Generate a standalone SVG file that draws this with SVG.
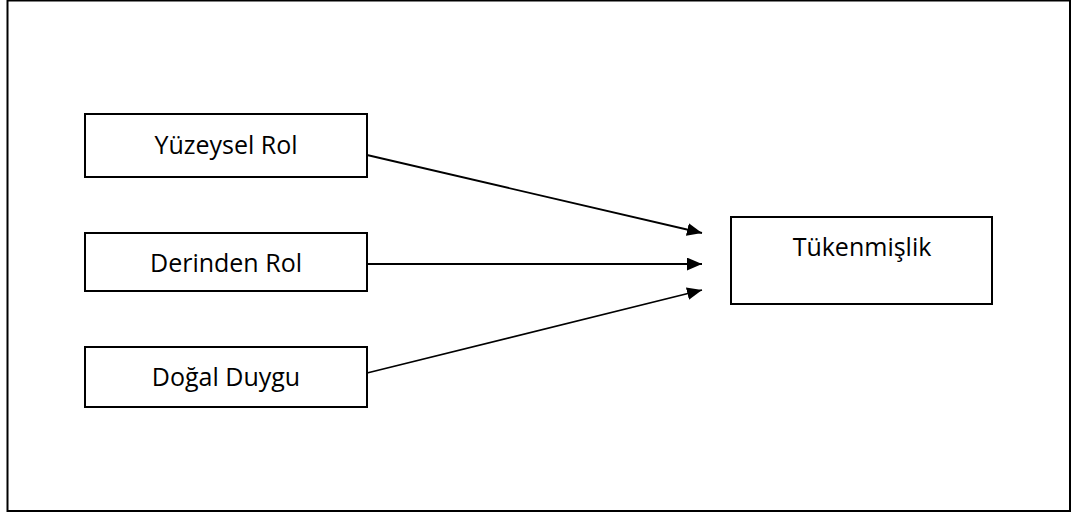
<svg xmlns="http://www.w3.org/2000/svg" width="1072" height="516" viewBox="0 0 1072 516">
<style>
.box{fill:#fff;stroke:#000;stroke-width:2}
.lbl{font-family:"Open Sans","Liberation Sans",sans-serif;font-size:25px;fill:#000;text-anchor:middle}
.con{stroke:#000;stroke-width:1.8;fill:none;marker-end:url(#ah)}
</style>
<defs>
<marker id="ah" viewBox="0 0 14 12" refX="14" refY="6" markerWidth="15" markerHeight="13" markerUnits="userSpaceOnUse" orient="auto">
<path d="M0,0 L14,6 L0,12 Z" fill="#000"/>
</marker>
</defs>
<rect x="0" y="0" width="1072" height="516" fill="#fff"/>
<rect x="7.5" y="0.5" width="1062.5" height="510.5" fill="none" stroke="#000" stroke-width="2"/>
<g id="yuzeysel"><rect class="box" x="85" y="114" width="282" height="63"/><text class="lbl" x="226" y="154">Yüzeysel Rol</text></g>
<g id="derinden"><rect class="box" x="85" y="233" width="282" height="58"/><text class="lbl" x="226" y="272">Derinden Rol</text></g>
<g id="dogal"><rect class="box" x="85" y="347" width="282" height="60"/><text class="lbl" x="226" y="386">Doğal Duygu</text></g>
<g id="tukenmislik"><rect class="box" x="731" y="217" width="261" height="87"/><text class="lbl" x="862" y="256">Tükenmişlik</text></g>
<g id="connectors">
<path class="con" d="M367,155 L702,233"/>
<path class="con" d="M367,264 L702,264"/>
<path class="con" d="M367,373 L702,290"/>
</g>
</svg>
